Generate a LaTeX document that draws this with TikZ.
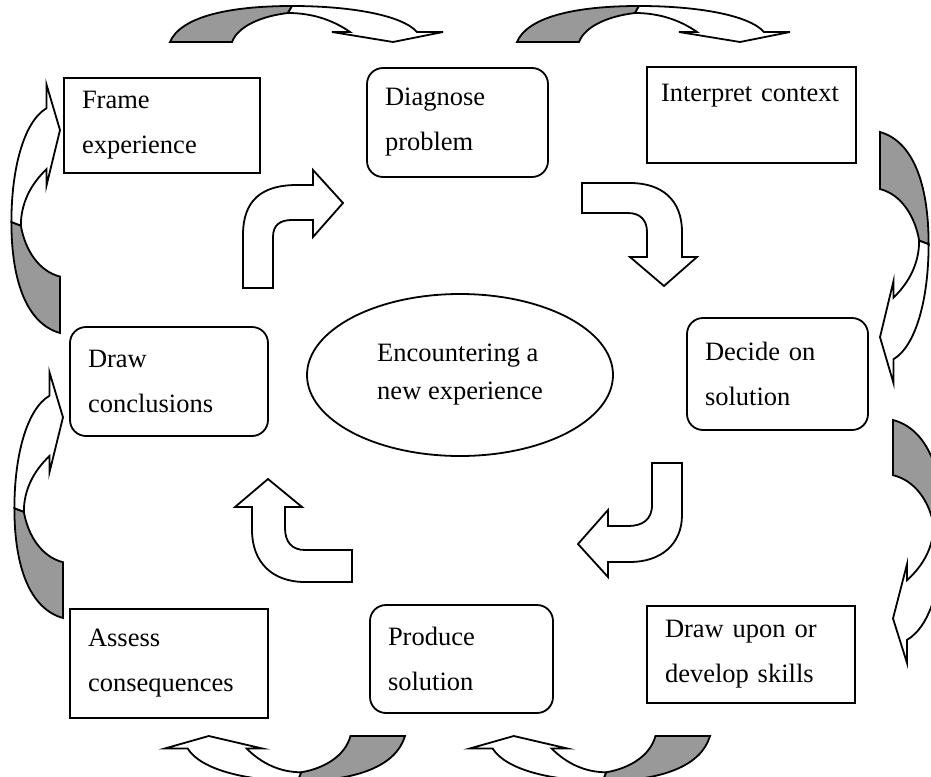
\documentclass[tikz,border=0pt]{standalone}
\usepackage{fontspec}
\setmainfont{Liberation Serif}
\usetikzlibrary{shapes.geometric}

% one curved block arrow in its own frame: tail at (0,0), head at the far end
\newcommand{\swoop}[1]{%
  \begin{scope}[#1]
    \draw [backface] (0,0) .. controls (10,24) and (55,36) .. (122,36) -- (118,29)
      .. controls (92,26) and (68,16) .. (62,0) -- cycle;
    \draw [frontface] (122,36) .. controls (180,36) and (232,27) .. (247,10) -- (273,10)
      -- (223,0) -- (162,10) -- (180,10) .. controls (163,22) and (142,29) .. (118,29) -- cycle;
  \end{scope}}

\begin{document}
\begin{tikzpicture}[x=0.5pt,y=-0.5pt]

% Define block styles
\tikzstyle{plain} = [rectangle, draw=black, line width=0.9pt, inner xsep=9pt, inner ysep=2pt, align=left, font=\fontsize{13.25}{22.5}\selectfont]
\tikzstyle{soft} = [plain, rounded corners=8pt]
\tikzstyle{frontface} = [draw=black, fill=white, line width=0.9pt, line join=miter]
\tikzstyle{backface} = [draw=black, fill=black!40, line width=0.9pt]

\useasboundingbox (0,0) rectangle (931,776);

% Define nodes
\node (frame) [plain, text width=80pt, minimum height=47.5pt] at (162,125.5) {Frame\\experience};
\node (diagnose) [soft, text width=72.5pt, minimum height=54.5pt] at (457.5,122.5) {Diagnose\\problem};
\node (interpret) [plain, inner xsep=7pt, text width=90.5pt, minimum height=48pt] at (751.5,115) {Interpret context\\\mbox{}};
\node (decide) [soft, text width=72.5pt, minimum height=56pt] at (777.5,374) {Decide on\\solution};
\node (skills) [plain, text width=86pt, minimum height=48.5pt] at (751,654.5) {Draw upon or\\develop skills};
\node (produce) [soft, text width=73.5pt, minimum height=54pt] at (461.5,659) {Produce\\solution};
\node (assess) [plain, text width=81pt, minimum height=54.5pt] at (169,663.5) {Assess\\consequences};
\node (conclude) [soft, text width=81pt, minimum height=54.5pt] at (169,381.5) {Draw\\conclusions};
\node (encounter) [ellipse, draw=black, line width=0.9pt, inner sep=0pt, minimum width=153pt, minimum height=81pt, align=left, font=\fontsize{13.25}{19}\selectfont] at (460,375) {Encountering a\\new experience};

% Inner bent arrows
\draw [frontface] (243,288) -- (243,235) .. controls (243,200) and (262,185) .. (297,185) -- (313,185) -- (313,170) -- (343,203)
  -- (313,237) -- (313,220) -- (292,220) .. controls (280,220) and (273,225) .. (273,237) -- (273,288) -- cycle;
\draw [frontface] (582,183) -- (630,183) .. controls (662,183) and (682,200) .. (682,232) -- (682,257) -- (697,257) -- (664,286)
  -- (630,257) -- (647,257) -- (647,232) .. controls (647,220) and (640,213) .. (628,213) -- (582,213) -- cycle;
\draw [frontface] (652,463) -- (682,463) -- (682,515) .. controls (682,545) and (660,562) .. (630,562) -- (608,562) -- (608,577)
  -- (578,544) -- (608,510) -- (608,526) -- (628,526) .. controls (642,526) and (652,520) .. (652,505) -- cycle;
\draw [frontface] (352,582) -- (305,582) .. controls (272,582) and (252,562) .. (252,530) -- (252,507) -- (235,507) -- (268,479)
  -- (302,507) -- (285,507) -- (285,528) .. controls (285,542) and (292,550) .. (305,550) -- (352,550) -- cycle;

% Outer curved arrows
\swoop{shift={(170,42)}, x={(0.5pt,0pt)}, y={(0pt,0.5pt)}}
\swoop{shift={(517,42)}, x={(0.5pt,0pt)}, y={(0pt,0.5pt)}}
\swoop{shift={(880,132)}, x={(0pt,-0.46pt)}, y={(0.675pt,0pt)}}
\swoop{shift={(893,420)}, x={(0pt,-0.445pt)}, y={(0.7pt,0pt)}}
\swoop{shift={(710,736)}, x={(-0.44pt,0pt)}, y={(0pt,-0.625pt)}}
\swoop{shift={(405,736)}, x={(-0.44pt,0pt)}, y={(0pt,-0.625pt)}}
\swoop{shift={(63,618)}, x={(0pt,0.45pt)}, y={(-0.675pt,0pt)}}
\swoop{shift={(60,333)}, x={(0pt,0.455pt)}, y={(-0.675pt,0pt)}}

\end{tikzpicture}
\end{document}
